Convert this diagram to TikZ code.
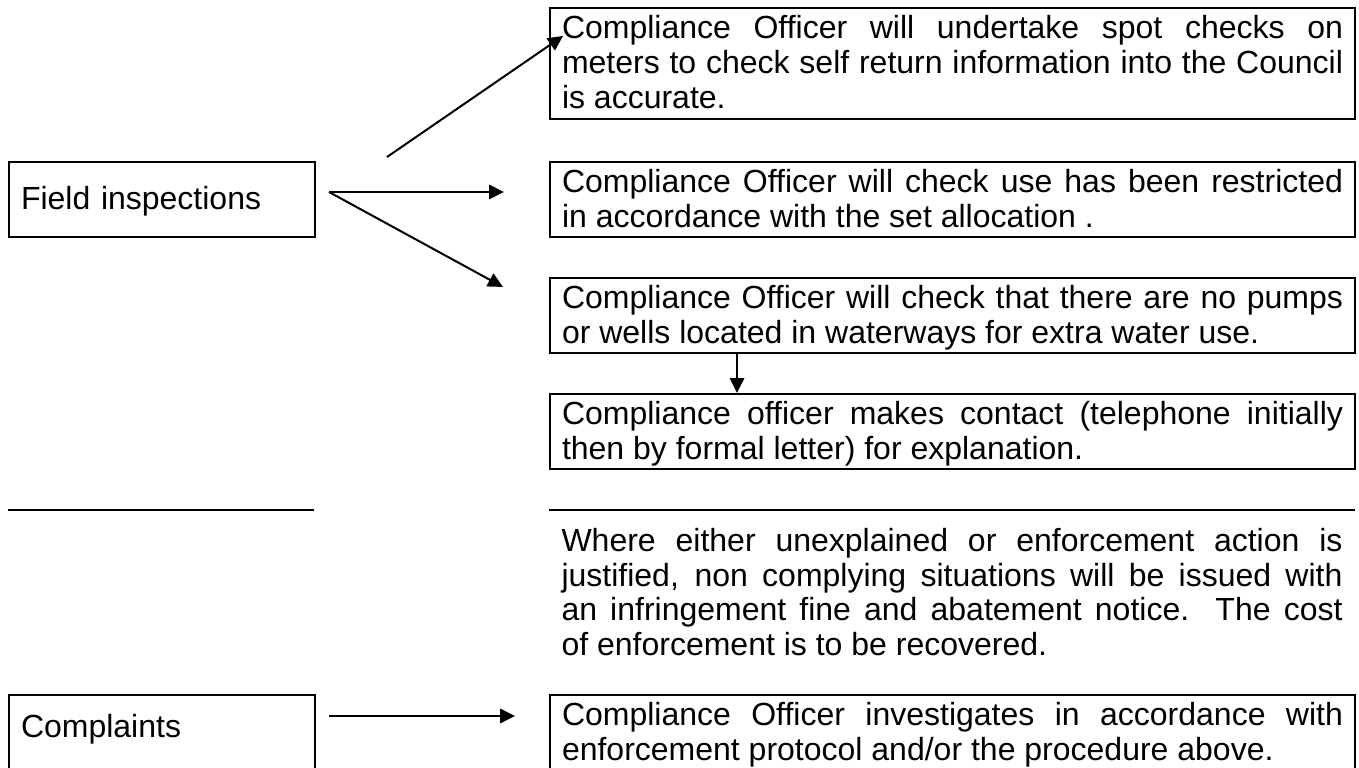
\documentclass[tikz,border=0pt]{standalone}
\usepackage{fontspec}
\setmainfont{Liberation Sans}
\usetikzlibrary{arrows.meta,calc}
\begin{document}
\begin{tikzpicture}[x=0.375pt,y=-0.375pt,
  txt/.style={anchor=north west,inner xsep=4.5pt,inner ysep=0pt,
    text width=292.875pt,align=justify,font=\fontsize{12}{13}\selectfont,
    text height=11.625pt,text depth=16.5pt},
  box/.style={txt,draw,line width=0.75pt},
  lbox/.style={box,text width=105.75pt,align=left},
  arr/.style={line width=0.75pt,-{Triangle[length=5.6pt,width=5.4pt]}},
  rule/.style={line width=0.75pt}]
\clip (0,0) rectangle (1359,768);
\fill[white] (0,0) rectangle (1359,768);

% right column boxes
\node[box,text depth=30pt] (b1) at (549,7)
  {Compliance Officer will undertake spot checks on\linebreak meters to check self return information into the Council\linebreak is accurate.};
\node[box] (b2) at (549,161)
  {Compliance Officer will check use has been restricted\linebreak in accordance with the set allocation .};
\node[box] (b3) at (549,277)
  {Compliance Officer will check that there are no pumps\linebreak or wells located in waterways for extra water use.};
\node[box] (b4) at (549,393)
  {Compliance officer makes contact (telephone initially\linebreak then by formal letter) for explanation.};
\node[txt,text height=15.375pt,text depth=40pt] (b5) at (549,510)
  {Where either unexplained or enforcement action is\linebreak justified, non complying situations will be issued with\linebreak an infringement fine and abatement notice.\ \ The cost\linebreak of enforcement is to be recovered.};
\draw[rule] (b5.north west) -- (b5.north east);
\node[box] (b6) at (549,694)
  {Compliance Officer investigates in accordance with\linebreak enforcement protocol and/or the procedure above.};

% left column
\node[lbox,text height=18pt,text depth=10.125pt] (field) at (8,161) {Field inspections};
\coordinate (l0) at (8,510);
\coordinate (l1) at (314,510);
\draw[rule] (l0) -- (l1);
\node[lbox,text height=15.75pt,text depth=12.375pt] (compl) at (8,694) {Complaints};

% connectors
\coordinate (a0) at (387,157);
\coordinate (a1) at (563,36);
\coordinate (f0) at (329,192);
\coordinate (f1) at (504,192);
\coordinate (f2) at (503,287);
\coordinate (c0) at (329,716);
\coordinate (c1) at (515,716);
\coordinate (dn) at (737,0);
\draw[arr] (a0) -- (a1);
\draw[arr] (f0) -- (f1);
\draw[arr] (f0) -- (f2);
\draw[arr] (b3.south -| dn) -- (b4.north -| dn);
\draw[arr] (c0) -- (c1);
\end{tikzpicture}
\end{document}
